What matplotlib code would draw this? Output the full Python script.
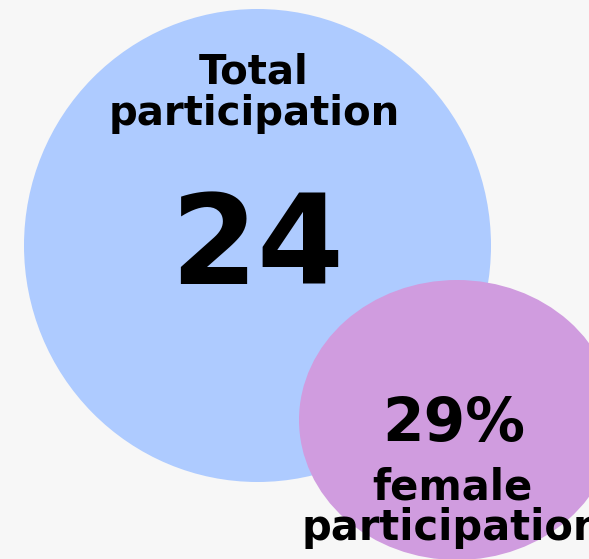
import matplotlib
matplotlib.use("Agg")
import matplotlib.pyplot as plt
from matplotlib.patches import Ellipse

# data
labels = ["Total\nparticipation", "female\nparticipation"]
values = ["24", "29%"]

BG, BLUE, PURPLE, INK = "#f7f7f7", "#aecbff", "#d09cdf", "#000000"
FONT = ["DejaVu Sans"]

fig = plt.figure(figsize=(5.89, 5.59), dpi=100, facecolor=BG)
ax = fig.add_axes([0, 0, 1, 1])
ax.set_xlim(0, 589); ax.set_ylim(559, 0); ax.axis("off")
ax.set_facecolor(BG)

ax.add_patch(Ellipse((257.5, 245.5), 467, 473, facecolor=BLUE, edgecolor="none", zorder=1))
ax.add_patch(Ellipse((457, 420), 316, 280, facecolor=PURPLE, edgecolor="none", zorder=2))


def stacked(x, ys, text, size):
    for y, line in zip(ys, text.split("\n")):
        ax.text(x, y, line, ha="center", va="baseline", fontsize=size, fontweight="bold",
                family=FONT, color=INK, zorder=3)


stacked(254, (84, 125), labels[0], 29)
ax.text(257, 284, values[0], ha="center", va="baseline", fontsize=90, fontweight="bold",
        family=FONT, color=INK, zorder=3)
ax.text(454, 441, values[1], ha="center", va="baseline", fontsize=43, fontweight="bold",
        family=FONT, color=INK, zorder=3)
stacked(452, (500, 540), labels[1], 30)

fig.savefig("out.png", dpi=100, facecolor=BG)
